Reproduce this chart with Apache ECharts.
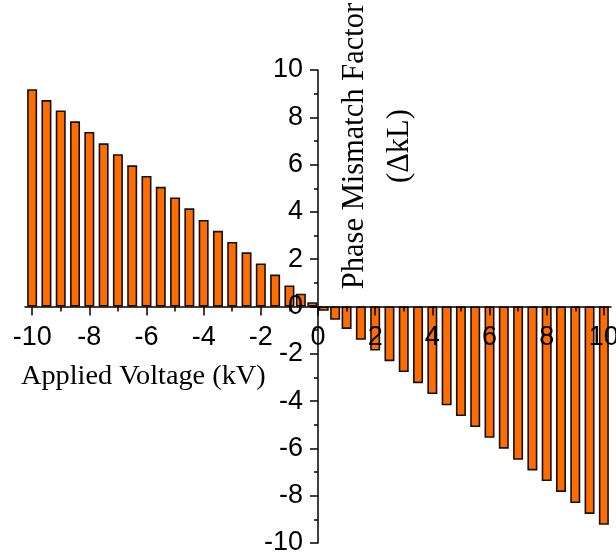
<!DOCTYPE html>
<html>
<head>
<meta charset="utf-8">
<script src="https://cdn.jsdelivr.net/npm/echarts@6/dist/echarts.min.js"></script>
<style>
  html, body { margin: 0; padding: 0; background: #fff; }
  #chart { width: 616px; height: 555px; }
</style>
</head>
<body>
<div id="chart"></div>
<script>
// applied voltage (kV) for every bar
const voltages = [
  -10, -9.5, -9, -8.5, -8, -7.5, -7, -6.5, -6, -5.5, -5, -4.5, -4, -3.5, -3, -2.5, -2, -1.5, -1, -0.6, -0.2,
  0.2, 0.6, 1, 1.5, 2, 2.5, 3, 3.5, 4, 4.5, 5, 5.5, 6, 6.5, 7, 7.5, 8, 8.5, 9, 9.5, 10
];
// phase mismatch factor (ΔkL)
const mismatch = [
  9.19, 8.73, 8.29, 7.83, 7.38, 6.90, 6.44, 5.97, 5.52, 5.06, 4.61, 4.15, 3.66, 3.20, 2.73, 2.29, 1.82, 1.35, 0.89, 0.54, 0.18,
  -0.18, -0.56, -0.95, -1.41, -1.86, -2.31, -2.77, -3.24, -3.70, -4.18, -4.63, -5.10, -5.55, -6.01, -6.48, -6.93, -7.38, -7.84, -8.31, -8.77, -9.23
];
const xLabels = [-10, -8, -6, -4, -2, 0, 2, 4, 6, 8, 10];
const xMinorTicks = [-9, -7, -5, -3, -1, 1, 3, 5, 7, 9];

const labelFont = { color: '#000', fontFamily: 'Liberation Sans, Arial, sans-serif', fontSize: 27 };
const serif = 'Liberation Serif, Times New Roman, serif';

// grid box; the axes cross at (0, 0) in the middle of it
const W = 616, H = 555;
const grid = { left: 25, right: 5, top: 70, bottom: 12 };
const xMin = -10.25, xMax = 10.25, yMin = -10, yMax = 10;
const gw = W - grid.left - grid.right, gh = H - grid.top - grid.bottom;
const yAxisOffset = -gw * (0 - xMin) / (xMax - xMin);
const xAxisOffset = -gh * (0 - yMin) / (yMax - yMin);

const tickStyle = { color: '#000', width: 1.5 };

const chart = echarts.init(document.getElementById('chart'));
chart.setOption({
  backgroundColor: '#fff',
  animation: false,
  grid: Object.assign({ containLabel: false, outerBoundsMode: 'none' }, grid),
  xAxis: [
    {
      type: 'value',
      min: xMin,
      max: xMax,
      position: 'bottom',
      offset: xAxisOffset,
      z: 10,
      splitLine: { show: false },
      axisLine: { onZero: false, lineStyle: tickStyle },
      axisTick: { customValues: xLabels, length: 9, lineStyle: tickStyle },
      axisLabel: Object.assign({ customValues: xLabels, margin: 18 }, labelFont)
    },
    {
      // minor ticks at the odd voltages
      type: 'value',
      min: xMin,
      max: xMax,
      position: 'bottom',
      offset: xAxisOffset,
      z: 10,
      splitLine: { show: false },
      axisLine: { show: false, onZero: false },
      axisTick: { customValues: xMinorTicks, length: 5, lineStyle: tickStyle },
      axisLabel: { show: false }
    }
  ],
  yAxis: {
    type: 'value',
    min: yMin,
    max: yMax,
    interval: 2,
    position: 'left',
    offset: yAxisOffset,
    z: 10,
    splitLine: { show: false },
    axisLine: { onZero: false, lineStyle: tickStyle },
    axisTick: { length: 8, lineStyle: tickStyle },
    minorTick: { show: true, splitNumber: 2, length: 4, lineStyle: tickStyle },
    axisLabel: Object.assign({ margin: 15 }, labelFont)
  },
  graphic: [
    {
      type: 'text',
      left: 21,
      top: 363,
      style: { text: 'Applied Voltage (kV)', fill: '#000', fontFamily: serif, fontSize: 28.3 }
    },
    {
      type: 'text',
      x: 377.5,
      y: 146,
      rotation: Math.PI / 2,
      style: {
        text: 'Phase Mismatch Factor\n(ΔkL)',
        fill: '#000',
        fontFamily: serif,
        fontSize: 30.5,
        lineHeight: 45,
        align: 'center',
        verticalAlign: 'middle'
      }
    }
  ],
  series: [
    {
      type: 'bar',
      barWidth: 10,
      itemStyle: { color: '#ff6c00', borderColor: '#111', borderWidth: 1.6 },
      data: voltages.map((v, i) => [v, mismatch[i]])
    }
  ]
});
</script>
</body>
</html>
